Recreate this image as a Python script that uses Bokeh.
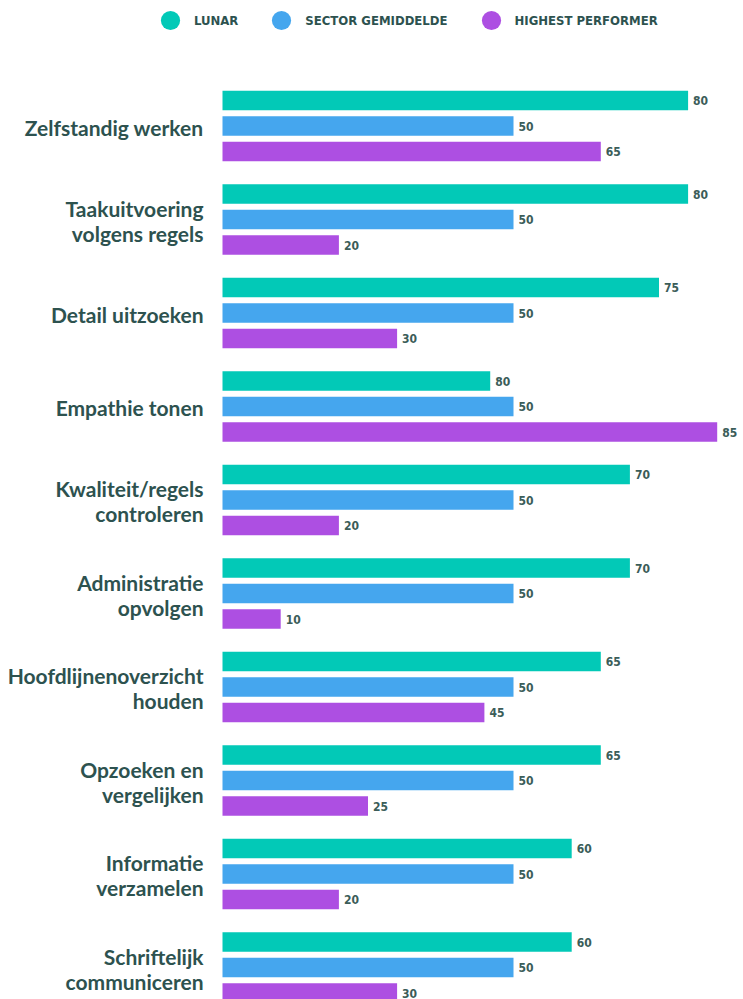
import numpy as np
from bokeh.plotting import figure
from bokeh.models import Range1d, ColumnDataSource, Legend, LegendItem
from bokeh.core.properties import value
from bokeh.embed import file_html
from bokeh.resources import INLINE

categories = ["Zelfstandig werken", "Taakuitvoering\nvolgens regels", "Detail uitzoeken",
              "Empathie tonen", "Kwaliteit/regels\ncontroleren", "Administratie\nopvolgen",
              "Hoofdlijnenoverzicht\nhouden", "Opzoeken en\nvergelijken", "Informatie\nverzamelen",
              "Schriftelijk\ncommuniceren"]
series = ["LUNAR", "SECTOR GEMIDDELDE", "HIGHEST PERFORMER"]
lunar = [80, 80, 75, 46, 70, 70, 65, 65, 60, 60]
lunar_labels = ["80", "80", "75", "80", "70", "70", "65", "65", "60", "60"]
sector = [50, 50, 50, 50, 50, 50, 50, 50, 50, 50]
highest = [65, 20, 30, 85, 20, 10, 45, 25, 20, 30]

colors = ["#02C9B7", "#45A6EE", "#AD4FE2"]
text_color = "#2D524F"
cond_font = "DejaVu Sans Condensed, Roboto"

W, H = 743, 999
px_per_unit = 5.82
left_px = 222
group_px = 93.5
top_px = 125.5

x_start = -left_px / px_per_unit
x_end = x_start + W / px_per_unit
y_top = -top_px / group_px
y_bottom = y_top + H / group_px

p = figure(width=W, height=H, x_range=Range1d(x_start, x_end), y_range=Range1d(y_bottom, y_top),
           output_backend="svg", toolbar_location=None, min_border=0)
p.xaxis.visible = False
p.yaxis.visible = False
p.grid.visible = False
p.outline_line_color = None
p.background_fill_color = "white"
p.border_fill_color = "white"

idx = np.arange(len(categories))
offset = 25.5 / group_px
bar_h = 19.5 / group_px
vals = [lunar, sector, highest]
labs = [lunar_labels, [str(v) for v in sector], [str(v) for v in highest]]

for k in range(3):
    src = ColumnDataSource(dict(y=idx + (k - 1) * offset, v=vals[k], lab=labs[k]))
    p.hbar(y="y", right="v", left=0, height=bar_h, source=src, color=colors[k], line_color=None)
    p.text(x="v", y="y", text="lab", source=src, x_offset=5, text_align="left",
           text_baseline="middle", text_font=value(cond_font),
           text_font_style="bold", text_font_size="12px", text_color="#3B5D59")

csrc = ColumnDataSource(dict(x=np.zeros(len(categories)), y=idx + 0.015, t=categories))
p.text(x="x", y="y", text="t", source=csrc, x_offset=-19, text_align="right",
       text_baseline="middle", text_font=value("Lato"), text_font_style="bold",
       text_font_size="21px", text_color=text_color, text_line_height=1.0)

items = []
for k in range(3):
    r = p.scatter(x=[np.nan], y=[np.nan], marker="circle", color=colors[k], line_color=None)
    items.append(LegendItem(label=series[k], renderers=[r]))
legend = Legend(items=items, orientation="horizontal", location=(146, H - 46),
                glyph_width=48, glyph_height=52, label_standoff=0, spacing=19,
                padding=0, margin=0, border_line_color=None, background_fill_alpha=0,
                label_text_font=cond_font, label_text_font_style="bold",
                label_text_font_size="13px", label_text_color=text_color)
p.add_layout(legend, "center")

open("out.html", "w").write(file_html(p, INLINE))
